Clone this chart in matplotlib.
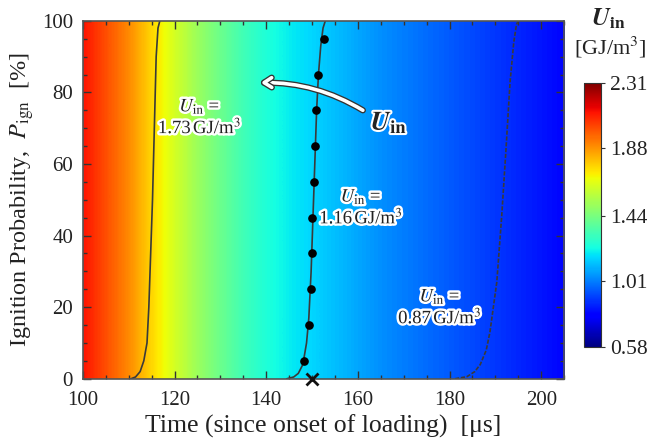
import numpy as np
import matplotlib
matplotlib.use("Agg")
import matplotlib.pyplot as plt
import matplotlib.patheffects as pe
from matplotlib.ticker import MultipleLocator

plt.rcParams['font.family'] = ['Liberation Serif', 'DejaVu Serif']
plt.rcParams['mathtext.fontset'] = 'stix'

# input energy density of the background field vs time [GJ/m3]
bg_time = [100, 105, 110, 115, 120, 125, 130, 135, 140, 145, 150,
           155, 160, 165, 170, 175, 180, 185, 190, 195, 200, 205]
bg_uin = [2.12, 2.01, 1.90, 1.76, 1.63, 1.51, 1.41, 1.32, 1.25, 1.20, 1.16,
          1.12, 1.08, 1.04, 1.01, 0.98, 0.95, 0.92, 0.89, 0.86, 0.83, 0.80]

# ignition probability curves
t_173 = [110.5, 111.5, 112.5, 113.3, 114.0, 114.4, 114.8, 115.2, 115.6, 116.0, 116.4, 116.8]
p_173 = [0, 0.5, 2, 5, 10, 20, 35, 50, 70, 90, 98, 100]

t_116 = [144.5, 146.0, 147.0, 148.0, 148.8, 149.3, 149.8, 150.2, 150.6, 151.0, 151.4, 151.9, 152.4, 152.9]
p_116 = [0, 0.5, 1.5, 4, 10, 17, 30, 45, 60, 75, 85, 93, 98, 100]

t_087 = [181.2, 183.8, 185.5, 186.7, 188.0, 188.8, 190.3, 191.4, 192.3, 193.2, 194.0, 194.6, 195.0]
p_087 = [0, 0.6, 2, 4, 8, 13, 27, 46, 64, 83, 94, 99, 100]

# measured ignition times at 1.16 GJ/m3
meas_t = [148.3, 149.3, 149.7, 149.9, 150.1, 150.4, 150.6, 150.9, 151.2, 152.6]
meas_p = [5, 15, 25, 35, 45, 55, 65, 75, 85, 95]

cb_ticks = [0.58, 1.01, 1.44, 1.88, 2.31]
vmin, vmax = 0.58, 2.31

fig = plt.figure(figsize=(6.47, 4.43), dpi=100)
ax = fig.add_axes([0.128, 0.145, 0.744, 0.808])

img = np.array([bg_uin])
half = (bg_time[1] - bg_time[0]) / 2
im = ax.imshow(img, cmap='jet', vmin=vmin, vmax=vmax, aspect='auto',
               interpolation='bilinear', origin='lower',
               extent=[bg_time[0] - half, bg_time[-1] + half, 0, 100])

ax.plot(t_173, p_173, color='#3a3a3a', lw=1.2)
ax.plot(t_116, p_116, color='#3a3a3a', lw=1.2)
ax.plot(t_087, p_087, color='#3a3a3a', lw=1.2, ls=(0, (2.5, 1)))
ax.plot(meas_t, meas_p, 'o', color='black', ms=5.2)
ax.plot([150], [0], 'x', color='#111111', ms=8, mew=2, clip_on=False, zorder=5)

ax.set_xlim(100, 205)
ax.set_ylim(0, 100)
ax.xaxis.set_major_locator(MultipleLocator(20))
ax.xaxis.set_minor_locator(MultipleLocator(5))
ax.yaxis.set_major_locator(MultipleLocator(20))
ax.yaxis.set_minor_locator(MultipleLocator(5))
ax.tick_params(which='both', direction='in', top=True, right=True,
               colors='#333333', labelcolor='#222222', labelsize=15)
ax.tick_params(which='major', length=6, width=1)
ax.tick_params(which='minor', length=3, width=1)
ax.tick_params(axis='x', pad=9)
ax.tick_params(axis='y', pad=7)
for s in ax.spines.values():
    s.set_color('#555555')
    s.set_linewidth(1.2)

ax.set_xlabel('Time (since onset of loading)  [μs]', fontsize=18.5, color='#222222', labelpad=3)
ax.set_ylabel(r'Ignition Probability,  $P_{\mathrm{ign}}$  [%]', fontsize=17.5,
              color='#222222', labelpad=4)

glow = [pe.withStroke(linewidth=3.5, foreground='white')]
labels = [(125.5, 73.2, '1.73'), (160.7, 48.0, '1.16'), (177.9, 20.1, '0.87')]
for x, y, val in labels:
    ax.text(x, y, r'$U_{\mathrm{in}}$ =' + '\n' + val + r'$\,$GJ/m$^3$',
            ha='center', va='center', fontsize=13.5, color='#222222',
            linespacing=1.05, path_effects=glow)

# arrow pointing to higher input energy
ax.annotate('', xy=(138.2, 82.7), xytext=(161.6, 74.6),
            arrowprops=dict(arrowstyle='->,head_length=0.55,head_width=0.35',
                            color='white', lw=2.6,
                            connectionstyle='arc3,rad=0.15',
                            path_effects=[pe.withStroke(linewidth=4.5, foreground='#333333')]))
ax.text(166.8, 71.5, r'$\boldsymbol{U}_{\mathbf{in}}$', fontsize=19, color='#222222',
        ha='center', va='center',
        path_effects=[pe.withStroke(linewidth=3, foreground='white')])

cax = fig.add_axes([0.903, 0.217, 0.026, 0.596])
cb = fig.colorbar(im, cax=cax, ticks=cb_ticks)
cb.ax.set_yticklabels([f'{v:.2f}' for v in cb_ticks])
cb.ax.tick_params(labelsize=15.5, length=3, colors='#333333', labelcolor='#222222')
cb.outline.set_edgecolor('#333333')
fig.text(0.94, 0.958, r'$\boldsymbol{U}_{\mathbf{in}}$', fontsize=18, ha='center', va='center',
         color='#222222')
fig.text(0.943, 0.893, '[GJ/m$^3$]', fontsize=16, ha='center', va='center', color='#222222')

fig.savefig('out.png', dpi=100)
